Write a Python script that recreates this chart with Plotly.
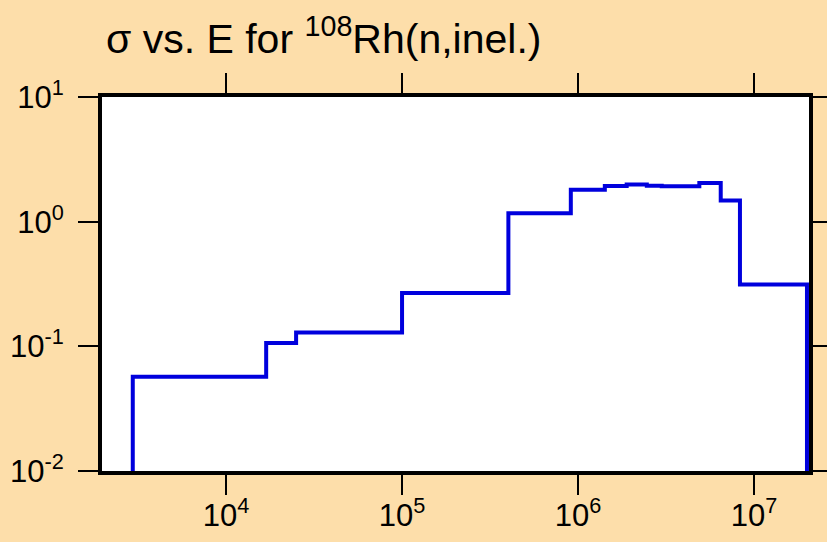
import plotly.graph_objects as go

# bin edges (eV) and cross sections (b)
energy_edges = [2.95e3, 1.69e4, 2.50e4, 1.0e5, 4.02e5, 9.1e5, 1.42e6, 1.89e6,
                2.46e6, 2.99e6, 4.89e6, 6.47e6, 8.32e6, 2.0e7]
sigma = [0.0569, 0.1064, 0.129, 0.268, 1.17, 1.80, 1.93, 1.99,
         1.94, 1.92, 2.04, 1.48, 0.313]
floor = 1e-3  # the step drops off the bottom of the plot at both ends

x_tickvals = [1e4, 1e5, 1e6, 1e7]
x_ticktext = ["10<sup>4</sup>", "10<sup>5</sup>", "10<sup>6</sup>", "10<sup>7</sup>"]
y_tickvals = [1e-2, 1e-1, 1e0, 1e1]
y_ticktext = ["10<sup>-2</sup>", "10<sup>-1</sup>", "10<sup>0</sup>", "10<sup>1</sup>"]

# step outline
xs = [energy_edges[0]] + energy_edges[:-1] + [energy_edges[-1], energy_edges[-1]]
ys = [floor] + sigma + [sigma[-1], floor]

fig = go.Figure()
fig.add_trace(go.Scatter(
    x=xs, y=ys, mode="lines", line_shape="hv",
    line=dict(color="#0000DD", width=4),
    showlegend=False, cliponaxis=True,
))

bg = "#FDDEAA"
fig.update_layout(
    width=827, height=542,
    paper_bgcolor=bg, plot_bgcolor="white",
    margin=dict(l=102, r=18, t=97, b=71),
    font=dict(family="Liberation Sans, Arial, sans-serif", color="black"),
    title=dict(
        text="σ vs. E for <sup>108</sup>Rh(n,inel.)",
        x=106 / 827, xref="container", xanchor="left",
        y=1 - 53 / 542, yref="container", yanchor="bottom",
        font=dict(size=41, color="black"),
    ),
)
axis_style = dict(
    type="log", automargin=False,
    ticks="outside", ticklen=20, tickwidth=2, tickcolor="black",
    showline=True, linewidth=4, linecolor="black", mirror="ticks",
    showgrid=False, zeroline=False,
    tickfont=dict(size=31),
)
fig.update_xaxes(range=[3.295, 7.3125], tickvals=x_tickvals, ticktext=x_ticktext,
                 ticklabelstandoff=-6, **axis_style)
fig.update_yaxes(range=[-2, 1], tickvals=y_tickvals, ticktext=y_ticktext,
                 ticklabelstandoff=8, **axis_style)

fig.write_html(
    "out.html",
    config={"displayModeBar": False},
    post_script="document.body.style.margin='0';",
)
